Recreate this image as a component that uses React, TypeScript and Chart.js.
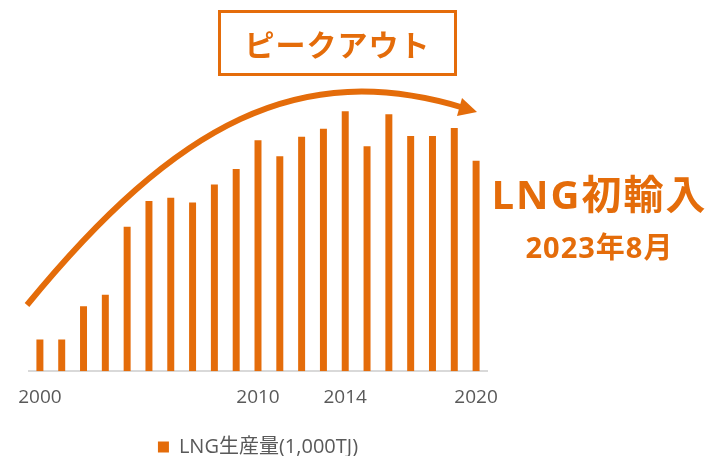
import React, { useEffect, useRef } from "react";
import { Chart, registerables } from "chart.js";

Chart.register(...registerables);

const years = [
  "2000", "2001", "2002", "2003", "2004", "2005", "2006", "2007", "2008", "2009", "2010",
  "2011", "2012", "2013", "2014", "2015", "2016", "2017", "2018", "2019", "2020",
];
const lngProduction = [
  317, 317, 650, 764, 1444, 1700, 1734, 1687, 1867, 2020, 2307,
  2147, 2344, 2424, 2597, 2247, 2567, 2350, 2350, 2430, 2104,
];
const shownTicks = ["2000", "2010", "2014", "2020"];
const seriesLabel = "LNG生産量(1,000TJ)";
const titleText = "ピークアウト";
const noteMain = "LNG初輸入";
const noteSub = "2023年8月";

const ORANGE = "#E46C0A";

const arrowPlugin = {
  id: "peakArrow",
  afterDatasetsDraw(chart: any) {
    const ctx = chart.ctx as CanvasRenderingContext2D;
    ctx.save();
    ctx.strokeStyle = ORANGE;
    ctx.fillStyle = ORANGE;
    ctx.lineWidth = 6;
    ctx.lineCap = "butt";
    ctx.beginPath();
    ctx.moveTo(27, 305);
    ctx.bezierCurveTo(177, 122, 300, 58, 464, 108);
    ctx.stroke();
    ctx.beginPath();
    ctx.moveTo(477, 112);
    ctx.lineTo(462, 98);
    ctx.lineTo(457, 116);
    ctx.closePath();
    ctx.fill();
    ctx.restore();
  },
};

export default function App() {
  const canvasRef = useRef<HTMLCanvasElement | null>(null);

  useEffect(() => {
    if (!canvasRef.current) return;
    const chart = new Chart(canvasRef.current, {
      type: "bar",
      data: {
        labels: years,
        datasets: [
          {
            label: seriesLabel,
            data: lngProduction,
            backgroundColor: ORANGE,
            barPercentage: 0.32,
            categoryPercentage: 1,
          },
        ],
      },
      options: {
        responsive: false,
        animation: false,
        layout: { padding: { left: 29, right: 220, top: 71, bottom: -11 } },
        plugins: {
          tooltip: { enabled: false },
          legend: {
            position: "bottom",
            labels: {
              boxWidth: 11,
              boxHeight: 11,
              padding: 13,
              color: "#595959",
              font: { family: "'Open Sans', 'Noto Sans CJK JP', sans-serif", size: 20 },
            },
          },
        },
        scales: {
          x: {
            grid: { display: false, drawTicks: false },
            border: { display: true, color: "#D9D9D9", width: 2 },
            ticks: {
              autoSkip: false,
              maxRotation: 0,
              padding: 15,
              color: "#595959",
              font: { family: "'Open Sans', sans-serif", size: 19 },
              callback: (_v: any, i: number) => (shownTicks.includes(years[i]) ? years[i] : ""),
            },
          },
          y: {
            display: false,
            min: 0,
            max: 3000,
          },
        },
      },
      plugins: [arrowPlugin],
    });
    return () => chart.destroy();
  }, []);

  return (
    <div style={{ position: "fixed", left: 0, top: 0, width: 707, height: 456, background: "#fff", overflow: "hidden" }}>
      <canvas ref={canvasRef} width={707} height={456} />
      <div
        style={{
          position: "absolute",
          left: 218,
          top: 10,
          width: 233,
          height: 60,
          border: `3px solid ${ORANGE}`,
          display: "flex",
          alignItems: "center",
          justifyContent: "center",
          color: ORANGE,
          fontFamily: "'Noto Sans CJK JP', sans-serif",
          fontWeight: 700,
          fontSize: 30,
          lineHeight: 1,
          letterSpacing: 1,
        }}
      >
        {titleText}
      </div>
      <div
        style={{
          position: "absolute",
          left: 490,
          top: 170,
          width: 219,
          textAlign: "center",
          color: ORANGE,
          fontFamily: "'Open Sans', 'Noto Sans CJK JP', sans-serif",
          fontWeight: 700,
          fontSize: 40,
          lineHeight: "48px",
          letterSpacing: 2,
          whiteSpace: "nowrap",
        }}
      >
        {noteMain}
      </div>
      <div
        style={{
          position: "absolute",
          left: 491,
          top: 229,
          width: 217,
          textAlign: "center",
          color: ORANGE,
          fontFamily: "'Open Sans', 'Noto Sans CJK JP', sans-serif",
          fontWeight: 700,
          fontSize: 29,
          lineHeight: "36px",
          letterSpacing: 1,
          whiteSpace: "nowrap",
        }}
      >
        {noteSub}
      </div>
    </div>
  );
}
